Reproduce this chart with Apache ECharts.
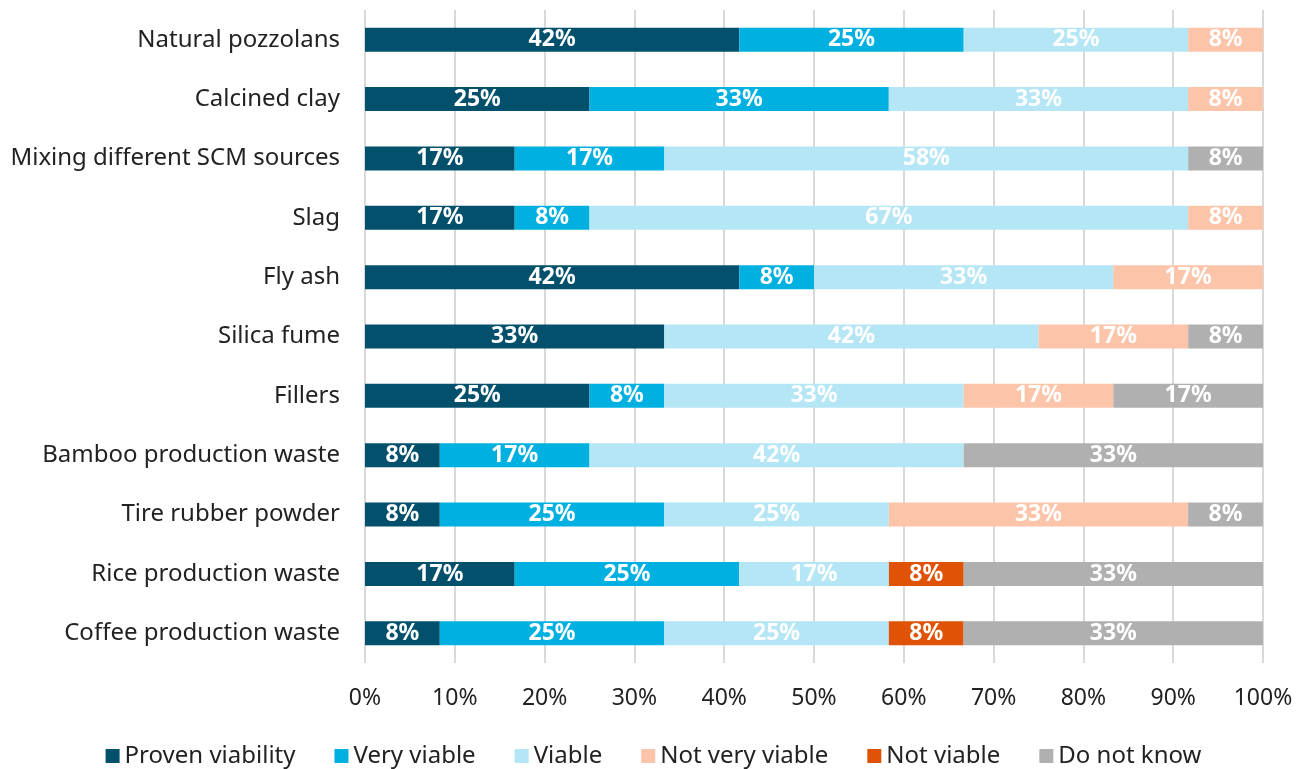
<!DOCTYPE html>
<html><head><meta charset="utf-8">
<script src="https://cdn.jsdelivr.net/npm/echarts@6/dist/echarts.min.js"></script>
<style>html,body{margin:0;padding:0;background:#fff}#c{width:1307px;height:769px}</style>
</head><body><div id="c"></div>
<script>
const categories = ["Natural pozzolans","Calcined clay","Mixing different SCM sources","Slag","Fly ash","Silica fume","Fillers","Bamboo production waste","Tire rubber powder","Rice production waste","Coffee production waste"];
const seriesNames = ["Proven viability","Very viable","Viable","Not very viable","Not viable","Do not know"];
const provenViability = [41.67,25,16.67,16.67,41.67,33.33,25,8.33,8.33,16.67,8.33];
const veryViable      = [25,33.33,16.67,8.33,8.33,0,8.33,16.67,25,25,25];
const viable          = [25,33.33,58.33,66.67,33.33,41.67,33.33,41.67,25,16.67,25];
const notVeryViable   = [8.33,8.33,0,8.33,16.67,16.67,16.67,0,33.33,0,0];
const notViable       = [0,0,0,0,0,0,0,0,0,8.33,8.33];
const doNotKnow       = [0,0,8.33,0,0,8.33,16.67,33.33,8.33,33.33,33.33];
const xTicks = [0,10,20,30,40,50,60,70,80,90,100];
const colors = ["#02506B","#00B0E0","#B5E6F5","#FCC5AA","#E05206","#B0B0B0"];
const allData = [provenViability,veryViable,viable,notVeryViable,notViable,doNotKnow];
const FONT = "Noto Sans, Liberation Sans, Arial, sans-serif";
const chart = echarts.init(document.getElementById('c'));
chart.setOption({
  animation:false,
  textStyle:{fontFamily:FONT},
  grid:{left:365,right:44,top:10,bottom:106,containLabel:false},
  legend:{
    data:seriesNames, bottom:-4, left:'center', itemWidth:14, itemHeight:14, itemGap:39,
    icon:'rect',
    textStyle:{fontSize:24,color:'#222',fontFamily:FONT}
  },
  xAxis:{
    type:'value', min:xTicks[0], max:xTicks[xTicks.length-1], interval:10,
    axisLabel:{formatter:v=>v+'%', fontSize:23, color:'#222', margin:24},
    splitLine:{show:true,lineStyle:{color:'#D9D9D9',width:2}},
    axisLine:{show:false}, axisTick:{show:false}
  },
  yAxis:{
    type:'category', data:categories, inverse:true,
    axisLabel:{fontSize:24,color:'#222',margin:25},
    axisLine:{show:false}, axisTick:{show:false}
  },
  series: seriesNames.map((n,i)=>({
    name:n, type:'bar', stack:'total', barWidth:24,
    itemStyle:{color:colors[i]},
    data:allData[i],
    label:{show:true, position:'inside', color:'#fff', fontWeight:'bold', fontSize:23,
      formatter:p=> p.value>0 ? Math.round(p.value)+'%' : ''}
  }))
});
</script></body></html>
